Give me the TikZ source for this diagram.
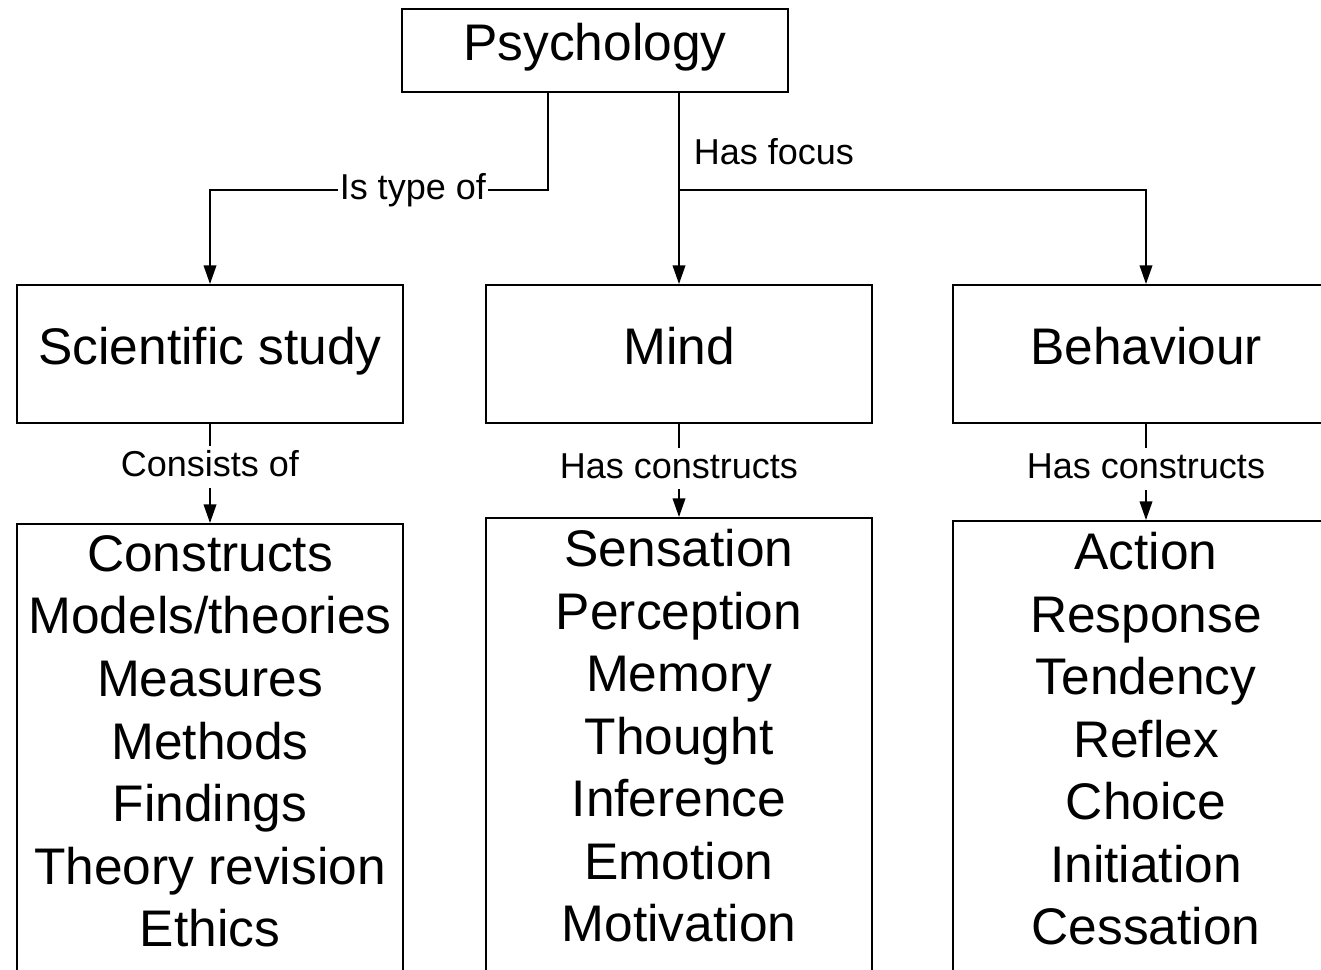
\documentclass[tikz,border=0pt]{standalone}
\usepackage{fontspec}
\setmainfont{Liberation Sans}
\usetikzlibrary{arrows.meta}

\begin{document}
\begin{tikzpicture}[x=0.75pt,y=0.75pt,yscale=-1,xscale=1,
  box/.style={draw, line width=1.5pt, inner sep=0pt, minimum width=289.5pt,
    font=\fontsize{38.6pt}{46.9pt}\selectfont, text height=29pt, text depth=13.5pt},
  listbox/.style={draw, line width=1.5pt, anchor=north, inner xsep=0pt, inner ysep=8.6pt,
    font=\fontsize{38.6pt}{46.9pt}\selectfont},
  link/.style={line width=1.2pt, -{Triangle[length=14pt,width=9.5pt]}},
  lbl/.style={fill=white, inner xsep=1.5pt, inner ysep=2.5pt,
    font=\fontsize{27pt}{32pt}\selectfont, text height=20.25pt, text depth=6pt}]
%set diagram size 1321 x 970, boxes on the right and bottom run past it
\useasboundingbox (0,0) rectangle (1321,970);
\fill[white] (0,0) rectangle (1321,970);
\clip (0,0) rectangle (1321,970);

%Shape: Rectangle [id:psy]
\node[box, minimum height=62.25pt] (psy) at (595,50.5) {Psychology};
%Shape: Rectangle [id:sci]
\node[box, minimum height=103.5pt] (sci) at (210,354) {Scientific study};
%Shape: Rectangle [id:mind]
\node[box, minimum height=103.5pt] (mind) at (679,354) {Mind};
%Shape: Rectangle [id:beh]
\node[box, minimum height=103.5pt] (beh) at (1146,354) {Behaviour};

%Shape: Rectangle [id:scilist]
\node[listbox] (scilist) at (210,523) {\parbox[t][360pt][t]{289.5pt}{\centering
  Constructs\\Models/theories\\Measures\\Methods\\Findings\\Theory revision\\Ethics}};
%Shape: Rectangle [id:mindlist]
\node[listbox] (mindlist) at (679,517) {\parbox[t][360pt][t]{289.5pt}{\centering
  Sensation\\Perception\\Memory\\Thought\\Inference\\Emotion\\Motivation}};
%Shape: Rectangle [id:behlist]
\node[listbox] (behlist) at (1146,520) {\parbox[t][360pt][t]{289.5pt}{\centering
  Action\\Response\\Tendency\\Reflex\\Choice\\Initiation\\Cessation}};

%Straight Lines [id:psy-sci]
\draw[link] ([xshift=-35.25pt]psy.south) -- ++(0,97) -| node[lbl, pos=0.2]{Is type of} (sci.north);
%Straight Lines [id:psy-mind]
\draw[link] (psy.south -| mind.north) -- (mind.north);
%Straight Lines [id:psy-beh]
\draw[link] (psy.south -| mind.north) -- node[lbl, pos=0.64, anchor=west, xshift=9pt]{Has focus} ++(0,97) -| (beh.north);

%Straight Lines [id:sci-scilist]
\draw[link] (sci.south) -- node[lbl, pos=0.435]{Consists of} (scilist.north);
%Straight Lines [id:mind-mindlist]
\draw[link] (mind.south) -- node[lbl, pos=0.48]{Has constructs} (mindlist.north);
%Straight Lines [id:beh-behlist]
\draw[link] (beh.south) -- node[lbl, pos=0.47]{Has constructs} (behlist.north);

\end{tikzpicture}
\end{document}
